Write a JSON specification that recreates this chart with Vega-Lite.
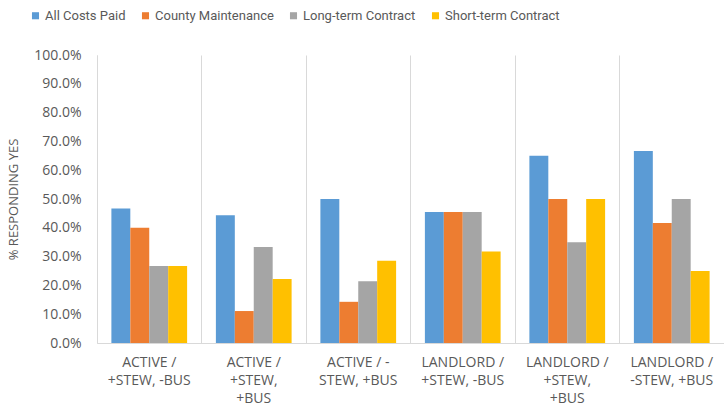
{
  "$schema": "https://vega.github.io/schema/vega-lite/v6.json",
  "width": 627,
  "height": 288,
  "autosize": "none",
  "padding": {"left": 97, "top": 55, "right": 0, "bottom": 62},
  "background": "white",
  "config": {
    "view": {"stroke": null},
    "font": "Open Sans",
    "axis": {"labelColor": "#595959", "titleColor": "#595959", "domainColor": "#d9d9d9", "labelFont": "Open Sans", "titleFont": "Open Sans"}
  },
  "data": {
    "values": [
      {"group": "ACTIVE /\n+STEW, -BUS", "type": "All Costs Paid", "value": 0.467},
      {"group": "ACTIVE /\n+STEW, -BUS", "type": "County Maintenance", "value": 0.40},
      {"group": "ACTIVE /\n+STEW, -BUS", "type": "Long-term Contract", "value": 0.267},
      {"group": "ACTIVE /\n+STEW, -BUS", "type": "Short-term Contract", "value": 0.267},
      {"group": "ACTIVE /\n+STEW,\n+BUS", "type": "All Costs Paid", "value": 0.444},
      {"group": "ACTIVE /\n+STEW,\n+BUS", "type": "County Maintenance", "value": 0.111},
      {"group": "ACTIVE /\n+STEW,\n+BUS", "type": "Long-term Contract", "value": 0.333},
      {"group": "ACTIVE /\n+STEW,\n+BUS", "type": "Short-term Contract", "value": 0.222},
      {"group": "ACTIVE / -\nSTEW, +BUS", "type": "All Costs Paid", "value": 0.50},
      {"group": "ACTIVE / -\nSTEW, +BUS", "type": "County Maintenance", "value": 0.143},
      {"group": "ACTIVE / -\nSTEW, +BUS", "type": "Long-term Contract", "value": 0.214},
      {"group": "ACTIVE / -\nSTEW, +BUS", "type": "Short-term Contract", "value": 0.286},
      {"group": "LANDLORD /\n+STEW, -BUS", "type": "All Costs Paid", "value": 0.455},
      {"group": "LANDLORD /\n+STEW, -BUS", "type": "County Maintenance", "value": 0.455},
      {"group": "LANDLORD /\n+STEW, -BUS", "type": "Long-term Contract", "value": 0.455},
      {"group": "LANDLORD /\n+STEW, -BUS", "type": "Short-term Contract", "value": 0.318},
      {"group": "LANDLORD /\n+STEW,\n+BUS", "type": "All Costs Paid", "value": 0.65},
      {"group": "LANDLORD /\n+STEW,\n+BUS", "type": "County Maintenance", "value": 0.50},
      {"group": "LANDLORD /\n+STEW,\n+BUS", "type": "Long-term Contract", "value": 0.35},
      {"group": "LANDLORD /\n+STEW,\n+BUS", "type": "Short-term Contract", "value": 0.50},
      {"group": "LANDLORD /\n-STEW, +BUS", "type": "All Costs Paid", "value": 0.667},
      {"group": "LANDLORD /\n-STEW, +BUS", "type": "County Maintenance", "value": 0.417},
      {"group": "LANDLORD /\n-STEW, +BUS", "type": "Long-term Contract", "value": 0.50},
      {"group": "LANDLORD /\n-STEW, +BUS", "type": "Short-term Contract", "value": 0.25}
    ]
  },
  "mark": {"type": "bar"},
  "encoding": {
    "x": {
      "field": "group", "type": "nominal", "sort": null,
      "scale": {"paddingInner": 0, "paddingOuter": 0},
      "axis": {
        "title": null, "labelAngle": 0, "labelExpr": "split(datum.label, '\\n')",
        "labelFontSize": 14, "labelLineHeight": 18, "labelPadding": 12,
        "ticks": false, "grid": true, "bandPosition": 0, "gridColor": "#d9d9d9",
        "labelLimit": 200, "labelOverlap": false
      }
    },
    "xOffset": {
      "field": "type", "type": "nominal",
      "scale": {"paddingInner": 0, "paddingOuter": 0.76}
    },
    "y": {
      "field": "value", "type": "quantitative",
      "scale": {"domain": [0, 1]},
      "axis": {
        "title": "% RESPONDING YES", "format": ".1%", "values": [0,0.1,0.2,0.3,0.4,0.5,0.6,0.7,0.8,0.9,1],
        "labelOverlap": false,
        "grid": false, "ticks": false, "labelFontSize": 14, "labelPadding": 16,
        "titleFontSize": 13, "titleFontWeight": "normal", "titlePadding": 13
      }
    },
    "color": {
      "field": "type", "type": "nominal",
      "scale": {
        "domain": ["All Costs Paid", "County Maintenance", "Long-term Contract", "Short-term Contract"],
        "range": ["#5B9BD5", "#ED7D31", "#A5A5A5", "#FFC000"]
      },
      "legend": {
        "title": null, "orient": "none", "direction": "horizontal",
        "legendX": -68, "legendY": -46,
        "symbolType": "square", "symbolSize": 50, "symbolStrokeWidth": 0,
        "labelFont": "Roboto",
        "labelFontSize": 13, "labelColor": "#595959", "columnPadding": 13, "labelOffset": 3
      }
    }
  }
}
